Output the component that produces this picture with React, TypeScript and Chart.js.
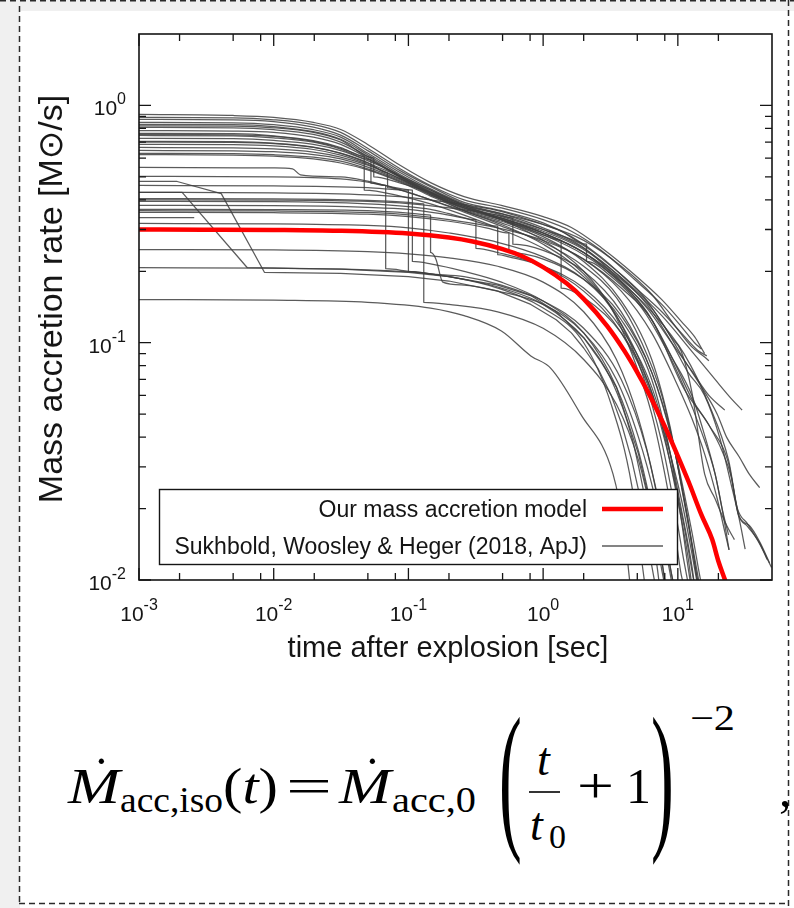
import React, { useEffect, useRef } from 'react';
import { Chart, registerables } from 'chart.js';

Chart.register(...registerables);

type Pt = [number, number];

// ---- model curve: time [s] and accretion rate [Msun/s]
const modelTimes = [0.001, 0.003, 0.01, 0.03, 0.1, 0.2, 0.3, 0.5, 0.7, 1, 1.5, 2, 3, 4, 5, 6, 7, 8, 10, 12, 15, 18, 20, 22.4, 25];
const modelRates = [0.3, 0.2996, 0.2988, 0.2964, 0.2884, 0.2774, 0.267, 0.248, 0.2314, 0.2083, 0.1775, 0.1531, 0.1172, 0.0926, 0.075, 0.062, 0.052, 0.0444, 0.0333, 0.026, 0.01875, 0.0148, 0.012, 0.01, 0.0083];

// ---- Sukhbold, Woosley & Heger (2018) curves, [t, Mdot] pairs
const swUpper: Pt[][] = [
  [[0.001, 0.916], [0.005, 0.907], [0.01, 0.89], [0.0197, 0.848], [0.0314, 0.792], [0.0498, 0.685], [0.0873, 0.558], [0.146, 0.473], [0.259, 0.413], [0.49, 0.379], [1.0, 0.34], [1.62, 0.306], [2.69, 0.252], [4.75, 0.194], [7.6, 0.152], [10.6, 0.123], [13.3, 0.106], [15.8, 0.09]],
  [[0.001, 0.89], [0.005, 0.887], [0.01, 0.87], [0.0197, 0.83], [0.0314, 0.77], [0.0498, 0.66], [0.0873, 0.54], [0.146, 0.46], [0.259, 0.4], [0.49, 0.37], [1.0, 0.33], [1.62, 0.295], [2.69, 0.245], [4.75, 0.185], [7.6, 0.145], [10.6, 0.117], [13.3, 0.1], [15.0, 0.094]],
  [[0.001, 0.873], [0.005, 0.87], [0.01, 0.855], [0.0197, 0.81], [0.0314, 0.75], [0.0498, 0.645], [0.0873, 0.53], [0.146, 0.455], [0.259, 0.39], [0.49, 0.36], [1.0, 0.32], [1.62, 0.28], [2.69, 0.23], [4.75, 0.172], [7.6, 0.135], [10.6, 0.11], [14.0, 0.093], [16.4, 0.088]],
  [[0.001, 0.848], [0.005, 0.845], [0.01, 0.83], [0.0197, 0.79], [0.0314, 0.735], [0.0498, 0.63], [0.0873, 0.52], [0.146, 0.445], [0.259, 0.385], [0.49, 0.35], [1.0, 0.305], [1.93, 0.255], [3.5, 0.19], [5.9, 0.14], [9.0, 0.1], [12.7, 0.076], [17.0, 0.06], [22.3, 0.052]],
  [[0.001, 0.832], [0.005, 0.83], [0.01, 0.815], [0.0197, 0.775], [0.0314, 0.72], [0.0498, 0.62], [0.0873, 0.51], [0.146, 0.44], [0.259, 0.38], [0.49, 0.345], [1.0, 0.3], [2.0, 0.25], [4.17, 0.18], [7.6, 0.13], [12.7, 0.092], [18.9, 0.07], [25.0, 0.058], [30.0, 0.052]],
  [[0.001, 0.808], [0.005, 0.805], [0.01, 0.79], [0.0197, 0.755], [0.0314, 0.7], [0.0498, 0.61], [0.0873, 0.5], [0.146, 0.43], [0.259, 0.365], [0.49, 0.33], [1.0, 0.285], [2.0, 0.235], [3.8, 0.18], [6.4, 0.135], [11.1, 0.09], [17.0, 0.055], [23.8, 0.032], [28.6, 0.0185], [33.8, 0.017], [40.5, 0.0145], [48, 0.0118]],
  [[0.001, 0.784], [0.005, 0.78], [0.01, 0.77], [0.0197, 0.735], [0.0314, 0.685], [0.0498, 0.6], [0.0873, 0.495], [0.146, 0.425], [0.259, 0.36], [0.49, 0.32], [1.0, 0.275], [2.0, 0.225], [3.8, 0.17], [6.4, 0.125], [11.1, 0.064], [17.0, 0.045], [23.8, 0.031], [27.7, 0.02], [33.0, 0.0172], [40.5, 0.0142], [49.6, 0.0113]],
  [[0.001, 0.762], [0.005, 0.76], [0.01, 0.745], [0.0197, 0.71], [0.0314, 0.665], [0.047, 0.61], [0.047, 0.44], [0.0873, 0.415], [0.146, 0.385], [0.259, 0.345], [0.49, 0.3], [1.0, 0.25], [1.62, 0.21], [2.55, 0.165], [3.8, 0.12], [5.4, 0.08], [7.6, 0.045], [9.5, 0.025], [11.9, 0.0125], [12.7, 0.0095]],
  [[0.001, 0.747], [0.005, 0.745], [0.01, 0.73], [0.0197, 0.7], [0.0314, 0.655], [0.0527, 0.59], [0.0527, 0.47], [0.0873, 0.44], [0.146, 0.4], [0.259, 0.36], [0.49, 0.325], [1.0, 0.28], [2.0, 0.22], [3.8, 0.15], [6.4, 0.085], [8.7, 0.045], [10.6, 0.025], [12.7, 0.014], [14.0, 0.0098]],
  [[0.001, 0.726], [0.005, 0.724], [0.01, 0.712], [0.0197, 0.685], [0.0314, 0.645], [0.0498, 0.585], [0.0737, 0.53], [0.1, 0.48], [0.146, 0.43], [0.259, 0.37], [0.49, 0.33], [1.0, 0.29], [2.0, 0.24], [3.5, 0.185], [5.9, 0.135], [8.7, 0.09], [12.7, 0.06], [15.0, 0.045], [18.9, 0.028], [21.3, 0.02], [24.0, 0.0134]],
  [[0.001, 0.705], [0.005, 0.703], [0.01, 0.693], [0.0197, 0.668], [0.0314, 0.63], [0.0498, 0.575], [0.07, 0.52], [0.07, 0.45], [0.1, 0.43], [0.146, 0.4], [0.259, 0.355], [0.49, 0.31], [1.0, 0.265], [2.0, 0.21], [3.5, 0.155], [5.4, 0.1], [7.6, 0.06], [9.5, 0.035], [11.9, 0.018], [13.8, 0.0105], [15.0, 0.0085]],
  [[0.001, 0.685], [0.005, 0.683], [0.01, 0.675], [0.0197, 0.652], [0.0314, 0.618], [0.0498, 0.565], [0.0873, 0.49], [0.146, 0.42], [0.259, 0.37], [0.49, 0.335], [1.0, 0.295], [1.93, 0.25], [3.5, 0.195], [5.9, 0.145], [9.0, 0.1], [11.9, 0.075], [15.8, 0.06], [20.4, 0.04], [25.0, 0.025], [28.6, 0.018], [31.6, 0.0135]],
  [[0.001, 0.665], [0.005, 0.663], [0.01, 0.656], [0.0197, 0.636], [0.0314, 0.606], [0.0498, 0.56], [0.0873, 0.49], [0.146, 0.43], [0.259, 0.375], [0.49, 0.33], [1.0, 0.285], [1.36, 0.27], [1.36, 0.17], [2.0, 0.155], [3.8, 0.11], [5.9, 0.07], [8.1, 0.04], [10.6, 0.022], [12.7, 0.013], [14.0, 0.0095]],
  [[0.001, 0.646], [0.005, 0.644], [0.01, 0.638], [0.0197, 0.62], [0.0314, 0.595], [0.0498, 0.55], [0.0873, 0.485], [0.146, 0.425], [0.259, 0.375], [0.49, 0.34], [1.0, 0.3], [1.93, 0.26], [3.2, 0.21], [5.4, 0.16], [8.1, 0.115], [11.1, 0.085], [15.0, 0.065], [19.6, 0.05], [23.0, 0.04], [28.6, 0.033], [33.8, 0.028], [40.5, 0.0245]],
  [[0.001, 0.628], [0.005, 0.626], [0.01, 0.62], [0.0197, 0.605], [0.0314, 0.582], [0.0498, 0.54], [0.0873, 0.48], [0.146, 0.42], [0.259, 0.37], [0.49, 0.335], [1.0, 0.29], [2.0, 0.24], [3.8, 0.18], [6.4, 0.125], [9.5, 0.082], [12.7, 0.058], [17.0, 0.045], [21.3, 0.035], [25.0, 0.027], [28.0, 0.019], [33.0, 0.0168], [40.5, 0.0143], [46.0, 0.0122]],
  [[0.001, 0.7], [0.005, 0.698], [0.01, 0.69], [0.0197, 0.665], [0.0314, 0.628], [0.0498, 0.572], [0.0873, 0.5], [0.146, 0.435], [0.259, 0.38], [0.49, 0.35], [1.0, 0.315], [2.0, 0.27], [3.8, 0.21], [6.4, 0.16], [9.5, 0.118], [12.7, 0.096], [15.8, 0.087], [17.0, 0.084]],
  [[0.001, 0.755], [0.005, 0.752], [0.01, 0.74], [0.0197, 0.705], [0.0314, 0.66], [0.0498, 0.595], [0.0873, 0.505], [0.146, 0.44], [0.259, 0.38], [0.49, 0.33], [1.0, 0.27], [2.0, 0.2], [3.2, 0.14], [4.55, 0.09], [6.4, 0.05], [8.1, 0.027], [9.5, 0.016], [10.6, 0.0105], [11.1, 0.0095]],
  [[0.001, 0.82], [0.005, 0.818], [0.01, 0.805], [0.0197, 0.77], [0.0314, 0.715], [0.0553, 0.6], [0.0553, 0.5], [0.0873, 0.47], [0.146, 0.43], [0.259, 0.375], [0.49, 0.335], [1.0, 0.29], [2.0, 0.24], [3.8, 0.185], [6.4, 0.14], [9.0, 0.105], [10.6, 0.092], [12.7, 0.062], [15.8, 0.028], [18.9, 0.022], [23.0, 0.017], [26.3, 0.0148]],
  [[0.001, 0.62], [0.005, 0.618], [0.01, 0.612], [0.0197, 0.595], [0.0314, 0.572], [0.0498, 0.535], [0.0873, 0.475], [0.146, 0.415], [0.259, 0.36], [0.49, 0.315], [1.0, 0.26], [2.0, 0.195], [3.5, 0.13], [5.4, 0.075], [7.6, 0.038], [9.5, 0.02], [11.1, 0.012], [12.0, 0.0095]],
];

const swLower: Pt[][] = [
  [[0.001, 0.548], [0.01, 0.545], [0.0138, 0.54], [0.0158, 0.51], [0.0314, 0.5], [0.0498, 0.48], [0.0737, 0.455], [0.107, 0.44], [0.107, 0.22], [0.146, 0.215], [0.259, 0.2], [0.49, 0.18], [1.0, 0.15], [2.0, 0.11], [3.5, 0.065], [5.1, 0.035], [6.4, 0.02], [7.6, 0.012], [8.1, 0.0095]],
  [[0.001, 0.502], [0.01, 0.5], [0.0314, 0.49], [0.0498, 0.475], [0.0678, 0.46], [0.0678, 0.205], [0.1, 0.2], [0.146, 0.195], [0.259, 0.185], [0.49, 0.17], [1.0, 0.145], [2.0, 0.105], [3.2, 0.07], [4.55, 0.04], [5.9, 0.02], [7.0, 0.0115], [7.3, 0.0095]],
  [[0.001, 0.46], [0.01, 0.458], [0.0498, 0.45], [0.1, 0.44], [0.1, 0.2], [0.146, 0.195], [0.259, 0.19], [0.49, 0.175], [1.0, 0.15], [2.0, 0.115], [3.8, 0.07], [5.9, 0.035], [7.6, 0.018], [9.0, 0.0105], [9.5, 0.009]],
  [[0.001, 0.405], [0.01, 0.404], [0.0498, 0.398], [0.1, 0.39], [0.13, 0.385], [0.13, 0.148], [0.2, 0.145], [0.46, 0.135], [1.0, 0.115], [2.0, 0.085], [3.5, 0.055], [5.1, 0.032], [6.4, 0.019], [7.6, 0.012], [8.1, 0.0095]],
  [[0.001, 0.394], [0.01, 0.393], [0.0498, 0.385], [0.1, 0.375], [0.146, 0.365], [0.2, 0.35], [0.317, 0.33], [0.317, 0.25], [0.46, 0.24], [1.0, 0.21], [2.0, 0.165], [3.8, 0.11], [6.4, 0.06], [8.7, 0.032], [11.1, 0.017], [12.7, 0.011], [13.3, 0.0095]],
  [[0.001, 0.379], [0.01, 0.378], [0.0498, 0.372], [0.1, 0.365], [0.174, 0.35], [0.259, 0.335], [0.46, 0.31], [0.46, 0.235], [0.557, 0.23], [1.0, 0.21], [2.0, 0.17], [3.8, 0.115], [6.4, 0.065], [8.7, 0.035], [10.6, 0.02], [12.7, 0.0115], [13.3, 0.0095]],
  [[0.001, 0.354], [0.01, 0.353], [0.0498, 0.348], [0.1, 0.34], [0.2, 0.325], [0.377, 0.305], [0.557, 0.29], [0.557, 0.24], [1.0, 0.225], [2.0, 0.185], [3.8, 0.13], [6.4, 0.075], [9.0, 0.04], [11.1, 0.022], [13.3, 0.0125], [14.5, 0.0095]],
  [[0.001, 0.337], [0.00257, 0.337]],
  [[0.001, 0.318], [0.01, 0.317], [0.0498, 0.312], [0.1, 0.305], [0.2, 0.29], [0.46, 0.265], [1.0, 0.23], [2.0, 0.185], [3.8, 0.125], [6.4, 0.07], [8.7, 0.035], [10.6, 0.018], [12.0, 0.011], [12.7, 0.009]],
  [[0.001, 0.247], [0.01, 0.246], [0.0498, 0.242], [0.1, 0.237], [0.2, 0.228], [0.46, 0.21], [1.0, 0.18], [2.0, 0.135], [3.5, 0.085], [5.1, 0.048], [6.8, 0.025], [8.1, 0.015], [9.0, 0.0105], [9.5, 0.0092]],
  [[0.001, 0.207], [0.01, 0.206], [0.0498, 0.203], [0.1, 0.199], [0.2, 0.19], [0.46, 0.17], [1.0, 0.14], [2.0, 0.1], [3.2, 0.055], [4.55, 0.025], [5.4, 0.012], [5.7, 0.0095]],
  [[0.001, 0.152], [0.01, 0.151], [0.0498, 0.148], [0.146, 0.14], [0.259, 0.13], [0.49, 0.112], [0.81, 0.088], [1.14, 0.078], [1.9, 0.05], [3.3, 0.028], [4.0, 0.016], [4.4, 0.0098]],
  [[0.001, 0.4], [0.01, 0.399], [0.0498, 0.394], [0.1, 0.386], [0.2, 0.37], [0.46, 0.345], [0.596, 0.335], [0.596, 0.26], [1.0, 0.245], [2.0, 0.2], [3.8, 0.135], [6.4, 0.075], [9.5, 0.035], [12.7, 0.016], [14.5, 0.0105], [15.0, 0.0095]],
  [[0.001, 0.365], [0.01, 0.364], [0.0498, 0.36], [0.1, 0.352], [0.146, 0.345], [0.146, 0.24], [0.16, 0.225], [0.18, 0.18], [0.259, 0.175], [0.46, 0.165], [1.0, 0.145], [2.0, 0.11], [3.5, 0.07], [5.1, 0.04], [6.8, 0.022], [8.1, 0.0135], [9.0, 0.0098]],
  [[0.001, 0.43], [0.01, 0.428], [0.0498, 0.42], [0.1, 0.41], [0.2, 0.39], [0.46, 0.36], [1.0, 0.315], [1.36, 0.295], [2.1, 0.26], [2.1, 0.22], [3.2, 0.19], [5.4, 0.14], [8.1, 0.095], [11.1, 0.065], [15.0, 0.042], [18.9, 0.028], [21.3, 0.02], [23.8, 0.0155]],
  [[0.001, 0.36], [0.01, 0.359], [0.0498, 0.354], [0.1, 0.346], [0.2, 0.33], [0.46, 0.305], [1.0, 0.27], [2.0, 0.225], [3.8, 0.165], [6.4, 0.11], [9.5, 0.07], [12.7, 0.048], [15.8, 0.034], [19.6, 0.022], [22.3, 0.016], [24.0, 0.0134]],
];

// two tracks with straight diagonal collapses near a few ms (drawn as polylines)
const swDiagonal: Pt[][] = [
  [[0.001, 0.478], [0.00192, 0.478], [0.00408, 0.425], [0.00853, 0.198], [0.0314, 0.196], [0.1, 0.19], [0.2, 0.182], [0.46, 0.165], [0.81, 0.145], [1.25, 0.125], [1.62, 0.11], [2.0, 0.095], [2.55, 0.078], [3.2, 0.06], [3.8, 0.046], [4.55, 0.032], [5.1, 0.024], [5.6, 0.018], [6.1, 0.014], [6.4, 0.0115], [6.8, 0.0095]],
  [[0.001, 0.43], [0.00209, 0.43], [0.00637, 0.207], [0.0314, 0.204], [0.1, 0.198], [0.2, 0.19], [0.46, 0.175], [0.81, 0.158], [1.25, 0.135], [2.0, 0.105], [2.69, 0.083], [3.5, 0.065], [4.17, 0.048], [5.1, 0.034], [5.9, 0.024], [6.4, 0.019], [7.0, 0.0145], [7.6, 0.011], [8.0, 0.0095]],
];

// ---- axes
const xRange = [0.001, 50];
const yRange = [0.01, 2];
const xMajorTicks = [0.001, 0.01, 0.1, 1, 10];
const xMinorSteps = [2, 5, 8];
const yMajorTicks = [0.01, 0.1, 1];
const yMinorSteps = [2, 3, 4, 5, 6, 7, 8, 9];

const legendLabels = ['Our mass accretion model', 'Sukhbold, Woosley & Heger (2018, ApJ)'];
const xAxisTitle = 'time after explosion [sec]';
const yAxisTitle = 'Mass accretion rate [M\u2299/s]';

const SANS = "'Liberation Sans', Arial, 'DejaVu Sans', sans-serif";
const SERIF = "'Liberation Serif', 'DejaVu Serif', serif";
const INK = '#151515';
const GREY = 'rgba(62,62,62,0.85)';
const RED = '#ff0000';

function drawPower(ctx: CanvasRenderingContext2D, value: number, x: number, y: number, align: 'center' | 'right') {
  const exp = Math.round(Math.log10(value));
  const base = '10';
  const sup = String(exp);
  ctx.font = `21px ${SANS}`;
  const wb = ctx.measureText(base).width;
  ctx.font = `16px ${SANS}`;
  const ws = ctx.measureText(sup).width;
  const total = wb + ws;
  const x0 = align === 'center' ? x - total / 2 : x - total;
  ctx.textAlign = 'left';
  ctx.textBaseline = 'alphabetic';
  ctx.fillStyle = INK;
  ctx.font = `21px ${SANS}`;
  ctx.fillText(base, x0, y);
  ctx.font = `16px ${SANS}`;
  ctx.fillText(sup, x0 + wb, y - 11);
}

const framePlugin = {
  id: 'gnuplotFrame',
  afterDatasetsDraw(chart: any) {
    const { ctx, chartArea: a, scales } = chart;
    const xs = scales.x;
    const ys = scales.y;
    ctx.save();

    // legend (opaque key box)
    const lx = a.left + 20;
    const ly = a.bottom - 91;
    const lw = 518;
    const lh = 75;
    ctx.fillStyle = '#ffffff';
    ctx.fillRect(lx, ly, lw, lh);
    ctx.strokeStyle = INK;
    ctx.lineWidth = 1.4;
    ctx.strokeRect(lx + 0.5, ly + 0.5, lw, lh);
    ctx.font = `23px ${SANS}`;
    ctx.fillStyle = INK;
    ctx.textAlign = 'right';
    ctx.textBaseline = 'alphabetic';
    const rows = [ly + 20, ly + 57];
    ctx.fillText(legendLabels[0], lx + 428, rows[0] + 8);
    ctx.fillText(legendLabels[1], lx + 428, rows[1] + 8);
    ctx.lineCap = 'butt';
    ctx.strokeStyle = RED;
    ctx.lineWidth = 4.5;
    ctx.beginPath();
    ctx.moveTo(lx + 443, rows[0]);
    ctx.lineTo(lx + 504, rows[0]);
    ctx.stroke();
    ctx.strokeStyle = GREY;
    ctx.lineWidth = 1.3;
    ctx.beginPath();
    ctx.moveTo(lx + 443, rows[1]);
    ctx.lineTo(lx + 504, rows[1]);
    ctx.stroke();

    // frame
    ctx.strokeStyle = INK;
    ctx.lineWidth = 1.6;
    ctx.strokeRect(a.left, a.top, a.right - a.left, a.bottom - a.top);

    // ticks (inward, mirrored)
    ctx.lineWidth = 1.3;
    const vtick = (px: number, len: number) => {
      ctx.beginPath();
      ctx.moveTo(px, a.bottom);
      ctx.lineTo(px, a.bottom - len);
      ctx.moveTo(px, a.top);
      ctx.lineTo(px, a.top + len);
      ctx.stroke();
    };
    const htick = (py: number, len: number) => {
      ctx.beginPath();
      ctx.moveTo(a.left, py);
      ctx.lineTo(a.left + len, py);
      ctx.moveTo(a.right, py);
      ctx.lineTo(a.right - len, py);
      ctx.stroke();
    };
    xMajorTicks.forEach((v) => {
      vtick(xs.getPixelForValue(v), 12);
      xMinorSteps.forEach((m) => {
        const mv = v * m;
        if (mv < xRange[1]) vtick(xs.getPixelForValue(mv), 7);
      });
    });
    yMajorTicks.forEach((v) => {
      htick(ys.getPixelForValue(v), 12);
      yMinorSteps.forEach((m) => {
        const mv = v * m;
        if (mv < yRange[1]) htick(ys.getPixelForValue(mv), 7);
      });
    });

    // tick labels
    xMajorTicks.forEach((v) => drawPower(ctx, v, xs.getPixelForValue(v), a.bottom + 41, 'center'));
    yMajorTicks.forEach((v) => drawPower(ctx, v, a.left - 13, ys.getPixelForValue(v) + 10, 'right'));

    // axis titles
    ctx.fillStyle = INK;
    ctx.textAlign = 'center';
    ctx.font = `29px ${SANS}`;
    ctx.fillText(xAxisTitle, 448, a.bottom + 77);
    ctx.save();
    ctx.translate(62, 299);
    ctx.rotate(-Math.PI / 2);
    ctx.font = `34px ${SANS}`;
    ctx.fillText(yAxisTitle, 0, 0);
    ctx.restore();

    ctx.restore();
  },
};

function Formula() {
  const t = { fontFamily: SERIF, fill: '#000' } as const;
  return (
    <g>
      <text x={68} y={803} fontSize={50} fontStyle="italic" textLength={52} lengthAdjust="spacingAndGlyphs" style={t}>M</text>
      <text x={93} y={792} fontSize={50} style={t}>{'\u02D9'}</text>
      <text x={120} y={812} fontSize={36} textLength={103} lengthAdjust="spacingAndGlyphs" style={t}>acc,iso</text>
      <text x={223} y={803} fontSize={50} textLength={55} lengthAdjust="spacingAndGlyphs" style={t}>(<tspan fontStyle="italic">t</tspan>)</text>
      <text x={286} y={803} fontSize={50} textLength={46} lengthAdjust="spacingAndGlyphs" style={t}>=</text>
      <text x={339} y={803} fontSize={50} fontStyle="italic" textLength={52} lengthAdjust="spacingAndGlyphs" style={t}>M</text>
      <text x={364} y={792} fontSize={50} style={t}>{'\u02D9'}</text>
      <text x={392} y={812} fontSize={36} textLength={84} lengthAdjust="spacingAndGlyphs" style={t}>acc,0</text>
      <text transform="translate(499 830) scale(0.42 1)" x={0} y={0} fontSize={163} style={t}>(</text>
      <text x={537} y={775} fontSize={46} fontStyle="italic" style={t}>t</text>
      <line x1={529} y1={792} x2={560} y2={792} stroke="#000" strokeWidth={1.6} />
      <text x={530} y={840} fontSize={46} fontStyle="italic" style={t}>t</text>
      <text x={549} y={848} fontSize={34} style={t}>0</text>
      <text x={577} y={803} fontSize={50} textLength={37} lengthAdjust="spacingAndGlyphs" style={t}>+</text>
      <text x={626} y={803} fontSize={50} style={t}>1</text>
      <text transform="translate(651 830) scale(0.42 1)" x={0} y={0} fontSize={163} style={t}>)</text>
      <text x={690} y={730} fontSize={36} textLength={45} lengthAdjust="spacingAndGlyphs" style={t}>{'\u22122'}</text>
      <text x={779} y={806} fontSize={50} style={t}>,</text>
    </g>
  );
}

export default function App() {
  const canvasRef = useRef<HTMLCanvasElement | null>(null);

  useEffect(() => {
    const canvas = canvasRef.current;
    if (!canvas) return;
    const toXY = (c: Pt[]) => c.map(([x, y]) => ({ x, y }));
    const greySet = (c: Pt[]) => ({
      data: toXY(c),
      borderColor: GREY,
      borderWidth: 1.25,
      pointRadius: 0,
      fill: false,
      clip: 0,
      cubicInterpolationMode: 'monotone' as const,
    });
    const straightSet = (c: Pt[]) => ({
      data: toXY(c),
      borderColor: GREY,
      borderWidth: 1.25,
      pointRadius: 0,
      fill: false,
      clip: 0,
      tension: 0,
    });
    const chart = new Chart(canvas, {
      type: 'line',
      data: {
        datasets: [
          {
            label: legendLabels[0],
            data: modelTimes.map((x, i) => ({ x, y: modelRates[i] })),
            borderColor: RED,
            borderWidth: 4.5,
            pointRadius: 0,
            fill: false,
            clip: 0,
            cubicInterpolationMode: 'monotone',
          },
          ...swUpper.map(greySet),
          ...swLower.map(greySet),
          ...swDiagonal.map(straightSet),
        ] as any,
      },
      options: {
        animation: false,
        responsive: false,
        devicePixelRatio: 1,
        layout: { padding: { left: 139, top: 34, right: 22, bottom: 328 } },
        scales: {
          x: { type: 'logarithmic', min: xRange[0], max: xRange[1], display: false },
          y: { type: 'logarithmic', min: yRange[0], max: yRange[1], display: false },
        },
        elements: { line: { borderJoinStyle: 'round' } },
        plugins: { legend: { display: false }, tooltip: { enabled: false } },
        events: [],
      } as any,
      plugins: [framePlugin],
    });
    return () => chart.destroy();
  }, []);

  return (
    <div style={{ position: 'absolute', left: 0, top: 0, width: 794, height: 908, background: '#f0f0f0', overflow: 'hidden' }}>
      <svg width={794} height={908} style={{ position: 'absolute', left: 0, top: 0 }}>
        <rect x={20} y={11} width={774} height={897} fill="#ffffff" />
        <g stroke="#2a2a2a" strokeWidth={1.5} strokeDasharray="6 4" fill="none">
          <line x1={0} y1={0.75} x2={794} y2={0.75} />
          <line x1={19.5} y1={6} x2={19.5} y2={904} />
          <line x1={788.5} y1={0} x2={788.5} y2={908} />
          <line x1={19} y1={903.5} x2={789} y2={903.5} />
        </g>
        <Formula />
      </svg>
      <canvas ref={canvasRef} width={794} height={908} style={{ position: 'absolute', left: 0, top: 0 }} />
    </div>
  );
}
